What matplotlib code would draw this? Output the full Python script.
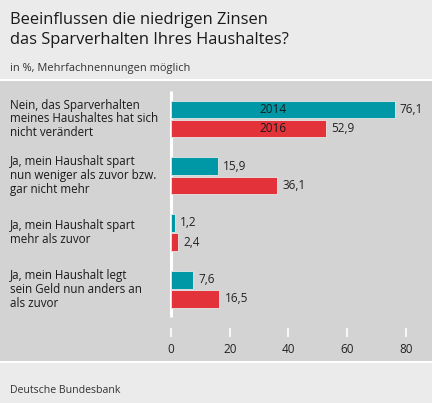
import matplotlib
matplotlib.use("Agg")
import matplotlib.pyplot as plt
from matplotlib.patches import Rectangle
import numpy as np

plt.rcParams['font.family'] = ['Open Sans', 'DejaVu Sans']

title_lines = ["Beeinflussen die niedrigen Zinsen", "das Sparverhalten Ihres Haushaltes?"]
subtitle = "in %, Mehrfachnennungen möglich"
source = "Deutsche Bundesbank"
categories = [
    "Nein, das Sparverhalten\nmeines Haushaltes hat sich\nnicht verändert",
    "Ja, mein Haushalt spart\nnun weniger als zuvor bzw.\ngar nicht mehr",
    "Ja, mein Haushalt spart\nmehr als zuvor",
    "Ja, mein Haushalt legt\nsein Geld nun anders an\nals zuvor",
]
series_names = ["2014", "2016"]
values_2014 = [76.1, 15.9, 1.2, 7.6]
values_2016 = [52.9, 36.1, 2.4, 16.5]
xticks = [0, 20, 40, 60, 80]

TEAL = "#0098a6"
RED = "#e4323a"
LIGHT = "#ebebeb"
MID = "#d3d3d3"

W, H = 432, 403
fig = plt.figure(figsize=(W / 100, H / 100), dpi=100)
fig.patch.set_facecolor("white")

def fy(px):
    return 1 - px / H

# header and footer panels
fig.patches.append(Rectangle((0, fy(79)), 1, 1 - fy(79), transform=fig.transFigure,
                             facecolor=LIGHT, edgecolor="none", zorder=0))
fig.patches.append(Rectangle((0, 0), 1, fy(363), transform=fig.transFigure,
                             facecolor=LIGHT, edgecolor="none", zorder=0))

for line, base in zip(title_lines, [24.5, 44.5]):
    fig.text(10 / W, fy(base), line, fontsize=11.9, va="baseline", ha="left", color="#1a1a1a")
fig.text(10 / W, fy(70.5), subtitle, fontsize=7.9, va="baseline", ha="left", color="#333333")
fig.text(10 / W, fy(393), source, fontsize=7.6, va="baseline", ha="left", color="#333333")

# main axes
top_px, bot_px = 81, 361
ax = fig.add_axes([0, fy(bot_px), 1, (bot_px - top_px) / H])
ax.set_facecolor(MID)
ppu = (406 - 171) / 80.0
ax.set_xlim(-171 / ppu, (W - 171) / ppu)
unit = 56.8
g0 = 119.0
ax.set_ylim((bot_px - g0) / unit, (top_px - g0) / unit)
for s in ax.spines.values():
    s.set_visible(False)
ax.set_xticks([])
ax.set_yticks([])

y = np.arange(len(categories))
h = 17.5 / unit
off = 9.6 / unit
ax.barh(y - off, values_2014, height=h, color=TEAL, edgecolor="#e6e6e6", linewidth=0.6, zorder=3)
ax.barh(y + off, values_2016, height=h, color=RED, edgecolor="#e6e6e6", linewidth=0.6, zorder=3)

def fmt(v):
    return f"{v:.1f}".replace(".", ",")

FS = 8.5
pad = 5 / ppu
for yi, v1, v2 in zip(y, values_2014, values_2016):
    ax.text(v1 + pad, yi - off, fmt(v1), va="center", ha="left", fontsize=FS, color="#222222")
    ax.text(v2 + pad, yi + off, fmt(v2), va="center", ha="left", fontsize=FS, color="#222222")

ax.text((273 - 171) / ppu, -off, series_names[0], va="center", ha="center", fontsize=FS, color="#1a1a1a", zorder=4)
ax.text((273 - 171) / ppu, off, series_names[1], va="center", ha="center", fontsize=FS, color="#1a1a1a", zorder=4)

for yi, cat in zip(y, categories):
    ax.text(-161 / ppu, yi, cat, va="center", ha="left", fontsize=8.4, color="#1a1a1a", linespacing=1.08)

# white baseline
ax.plot([0, 0], [(91 - g0) / unit, (317 - g0) / unit], color="white", lw=2.2, zorder=2, solid_capstyle="butt")
for t in xticks:
    ax.plot([t, t], [(328 - g0) / unit, (337 - g0) / unit], color="white", lw=1.2, zorder=2, solid_capstyle="butt")
    ax.text(t, (349 - g0) / unit, str(t), va="center", ha="center", fontsize=FS, color="#222222")

fig.savefig("out.png", dpi=100, facecolor=fig.get_facecolor())
